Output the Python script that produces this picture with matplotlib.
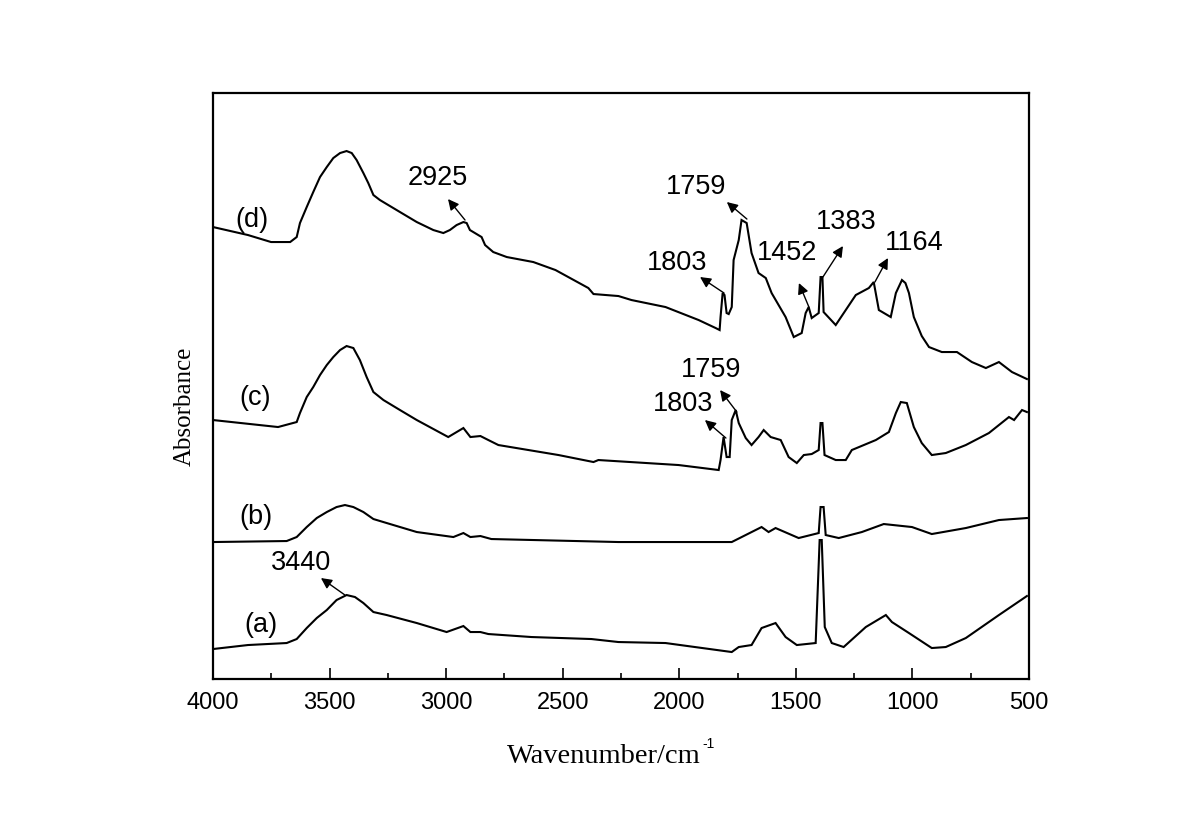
import matplotlib
matplotlib.use("Agg")
import matplotlib.pyplot as plt
from matplotlib.ticker import MultipleLocator

# ---------------- data ----------------
wn_d = [4000, 3850, 3751, 3669, 3641, 3627, 3598, 3570, 3541, 3512, 3484, 3455, 3427, 3405,
        3384, 3355, 3334, 3312, 3284, 3198, 3126, 3055, 3012, 2984, 2955, 2926, 2912, 2898,
        2848, 2833, 2798, 2740, 2626, 2531, 2390, 2368, 2261, 2205, 2059, 1917, 1844,
        1827, 1823, 1814, 1806, 1797, 1788, 1775, 1767, 1745, 1733, 1711, 1690, 1660, 1629,
        1604, 1544, 1509, 1475, 1458, 1445, 1432, 1402, 1394, 1386, 1381, 1329, 1286, 1243,
        1187, 1166, 1144, 1093, 1071, 1045, 1030, 1015, 994, 960, 929, 874, 809, 745, 685,
        629, 573, 509]
ab_d = [4.49, 4.41, 4.34, 4.34, 4.39, 4.53, 4.69, 4.84, 4.99, 5.09, 5.18, 5.23, 5.25, 5.23,
        5.16, 5.03, 4.93, 4.81, 4.76, 4.64, 4.54, 4.46, 4.43, 4.46, 4.51, 4.54, 4.53, 4.46,
        4.39, 4.31, 4.24, 4.19, 4.14, 4.06, 3.88, 3.82, 3.80, 3.76, 3.69, 3.56, 3.48,
        3.46, 3.59, 3.83, 3.81, 3.63, 3.62, 3.69, 4.16, 4.36, 4.56, 4.53, 4.23, 4.03, 3.98,
        3.83, 3.59, 3.39, 3.43, 3.63, 3.69, 3.58, 3.63, 3.99, 3.99, 3.64, 3.51, 3.66, 3.81,
        3.88, 3.94, 3.66, 3.59, 3.83, 3.96, 3.93, 3.83, 3.59, 3.40, 3.29, 3.24, 3.24, 3.14, 3.08,
        3.14, 3.04, 2.97]

wn_c = [4000, 3721, 3641, 3627, 3598, 3570, 3541, 3512, 3484, 3455, 3427, 3398, 3370, 3341,
        3312, 3269, 3198, 3126, 2991, 2926, 2896, 2853,
        2819, 2776, 2518, 2368, 2347, 2003, 1831, 1823, 1810, 1797, 1784, 1775, 1758, 1745,
        1715, 1690, 1660, 1638, 1608, 1565, 1531, 1496, 1466, 1432, 1402, 1394, 1386, 1377,
        1329, 1286, 1260, 1157, 1101, 1071, 1050, 1024, 994, 960, 917, 857, 771, 672, 586,
        564, 530, 509]
ab_c = [2.56, 2.49, 2.54, 2.63, 2.79, 2.89, 3.01, 3.11, 3.19, 3.26, 3.30, 3.28, 3.16, 2.99,
        2.84, 2.76, 2.66, 2.56, 2.39, 2.48, 2.39, 2.40,
        2.36, 2.31, 2.21, 2.14, 2.16, 2.11, 2.06, 2.16, 2.39, 2.19, 2.19, 2.56, 2.66, 2.53,
        2.38, 2.31, 2.39, 2.46, 2.39, 2.36, 2.19, 2.13, 2.21, 2.22, 2.26, 2.53, 2.53, 2.21,
        2.16, 2.16, 2.26, 2.36, 2.44, 2.63, 2.74, 2.73, 2.49, 2.33, 2.21, 2.23, 2.31, 2.43, 2.59,
        2.56, 2.66, 2.64]

wn_b = [4000, 3684, 3641, 3598, 3555, 3512, 3470, 3434, 3398, 3355, 3312, 3255, 3126, 2969,
        2926, 2896, 2853, 2806, 2261, 1775,
        1647, 1617, 1587, 1488, 1402, 1394, 1381, 1372, 1316, 1217, 1123, 1002, 917, 771, 629, 509]
ab_b = [1.34, 1.35, 1.39, 1.49, 1.58, 1.64, 1.69, 1.71, 1.69, 1.64, 1.57, 1.53, 1.44, 1.39,
        1.43, 1.39, 1.40, 1.37, 1.34, 1.34,
        1.49, 1.44, 1.48, 1.38, 1.43, 1.69, 1.69, 1.41, 1.38, 1.44, 1.52, 1.49, 1.42, 1.48, 1.56, 1.58]

wn_a = [4000, 3850, 3684, 3641, 3598, 3555, 3512, 3470, 3427, 3391, 3355, 3312, 3255, 3126,
        2998, 2926, 2896, 2853,
        2819, 2634, 2377, 2261, 2059, 1775, 1745, 1690, 1647, 1587, 1544, 1496, 1415, 1398,
        1389, 1376, 1346, 1295, 1200, 1114, 1088, 1015, 917, 857, 771, 629, 509]
ab_a = [0.27, 0.31, 0.33, 0.37, 0.48, 0.58, 0.66, 0.76, 0.81, 0.79, 0.73, 0.64, 0.61, 0.53,
        0.44, 0.50, 0.44, 0.44,
        0.42, 0.39, 0.37, 0.34, 0.33, 0.24, 0.29, 0.31, 0.48, 0.53, 0.39, 0.31, 0.33, 1.36,
        1.36, 0.49, 0.33, 0.29, 0.49, 0.61, 0.54, 0.43, 0.28, 0.29, 0.38, 0.61, 0.80]

curve_labels = ["(a)", "(b)", "(c)", "(d)"]
peak_labels = ["2925", "1759", "1803", "1452", "1383", "1164", "1759", "1803", "3440"]
x_ticks = [4000, 3500, 3000, 2500, 2000, 1500, 1000, 500]

# ---------------- layout ----------------
label_pos = [(3794, 0.51), (3816, 1.59), (3820, 2.78), (3833, 4.56)]
# (tail on curve, arrow head, text centre)
peak_pos = [
    ((2919, 4.56), (2992, 4.77), (3035, 4.98)),
    ((1710, 4.57), (1796, 4.74), (1928, 4.89)),
    ((1808, 3.83), (1911, 3.99), (2010, 4.13)),
    ((1444, 3.69), (1487, 3.93), (1538, 4.23)),
    ((1384, 3.99), (1298, 4.30), (1285, 4.54)),
    ((1161, 3.94), (1105, 4.18), (993, 4.33)),
    ((1753, 2.64), (1825, 2.86), (1864, 3.06)),
    ((1800, 2.38), (1890, 2.56), (1984, 2.72)),
    ((3434, 0.81), (3537, 0.98), (3623, 1.13)),
]

sans = ["Liberation Sans", "DejaVu Sans"]
serif = ["Liberation Serif", "DejaVu Serif"]

fig = plt.figure(figsize=(12, 8.19), dpi=100)
ax = fig.add_axes([0.1775, 0.1709, 0.68, 0.7155])

for wn, ab in [(wn_a, ab_a), (wn_b, ab_b), (wn_c, ab_c), (wn_d, ab_d)]:
    ax.plot(wn, ab, color="black", lw=1.5, solid_joinstyle="miter")

ax.set_xlim(4000, 500)
ax.set_ylim(-0.03, 5.83)
ax.set_xticks(x_ticks)
ax.xaxis.set_minor_locator(MultipleLocator(250))
ax.set_yticks([])
ax.tick_params(axis="x", which="major", direction="in", length=8, width=1.2, pad=9)
ax.tick_params(axis="x", which="minor", direction="in", length=4.5, width=1.2)
for lab in ax.get_xticklabels():
    lab.set_fontfamily(sans)
    lab.set_fontsize(17)
for s in ax.spines.values():
    s.set_linewidth(1.6)

ax.set_xlabel("Wavenumber/cm", family=serif, fontsize=20.5)
ax.xaxis.set_label_coords(0.4786, -0.1115)
ax.set_ylabel("Absorbance", family=serif, fontsize=18)
ax.yaxis.set_label_coords(-0.021, 0.465)
ax.annotate("-1", xy=(1.0, 1.0), xycoords=ax.xaxis.label, xytext=(1.5, -5),
            textcoords="offset points", family=sans, fontsize=10, ha="left", va="bottom")

for txt, (x, y) in zip(curve_labels, label_pos):
    ax.text(x, y, txt, family=sans, fontsize=19.5, ha="center", va="center")

for txt, (tail, head, tpos) in zip(peak_labels, peak_pos):
    ax.annotate("", xy=head, xytext=tail,
                arrowprops=dict(arrowstyle="-|>", color="black", lw=1.0,
                                mutation_scale=16, shrinkA=0, shrinkB=0))
    ax.text(tpos[0], tpos[1], txt, family=sans, fontsize=19.5, ha="center", va="center")

fig.savefig("out.png", dpi=100)
